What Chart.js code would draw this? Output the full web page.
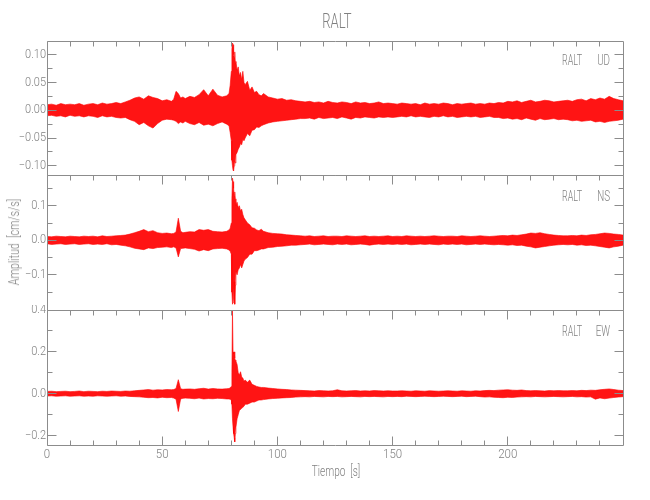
<!DOCTYPE html>
<html>
<head>
<meta charset="utf-8">
<script src="https://cdn.jsdelivr.net/npm/chart.js@4.4.1/dist/chart.umd.min.js"></script>
<style>
    html, body { margin: 0; padding: 0; background: #fff; }
    #wrap { position: relative; width: 650px; height: 500px; overflow: hidden; }
    #wrap canvas { position: absolute; left: 0; }
    .lbl { position: absolute; color: #808080; font-family: Roboto, 'DejaVu Sans', sans-serif; font-weight: 300; white-space: nowrap; line-height: 1; }
    #title { left: 337px; top: 21px; font-size: 21px; transform: translate(-50%, -50%) scaleX(0.62); }
    #xlabel { left: 336px; top: 471px; font-size: 14px; transform: translate(-50%, -50%) scaleX(0.72); }
    #ylabel { left: 14px; top: 242px; font-size: 14px; transform: translate(-50%, -50%) rotate(-90deg) scaleX(0.76); }
</style>
</head>
<body>
<div id="wrap">
    <canvas id="p1" width="650" height="180" style="top:0px"></canvas>
    <canvas id="p2" width="650" height="145" style="top:170px"></canvas>
    <canvas id="p3" width="650" height="195" style="top:305px"></canvas>
    <div class="lbl" id="title">RALT</div>
    <div class="lbl" id="xlabel">Tiempo&nbsp; [s]</div>
    <div class="lbl" id="ylabel">Amplitud&nbsp; [cm/s/s]</div>
</div>
<script>
// --- Data: envelope (upper / lower) of each trace ---
// Time samples in seconds; finer around the main arrival.
const T = [
    0, 2, 4, 6, 8, 10, 12, 14, 16, 18, 20, 22, 24, 26, 28, 30, 32, 34, 36, 38, 40, 42, 44, 46, 48, 50, 52, 54,
    55, 56, 57, 58, 59, 60,
    62, 64, 66, 68, 70, 72, 74, 76, 78,
    79, 79.5, 80, 80.25, 80.5, 80.75, 81, 81.25, 81.5, 81.75, 82,
    82.5, 83, 83.5, 84, 84.5, 85, 85.5, 86,
    87, 88, 89, 90, 91, 92, 93, 94,
    96, 98, 100, 102, 104, 106, 108, 110,
    112, 114, 116, 118, 120, 122, 124, 126, 128, 130, 132, 134, 136, 138, 140, 142, 144, 146, 148, 150,
    152, 154, 156, 158, 160, 162, 164, 166, 168, 170, 172, 174, 176, 178, 180, 182, 184, 186, 188, 190, 192, 194,
    196, 198, 200, 202, 204, 206, 208, 210, 212, 214, 216, 218, 220, 222, 224,
    226, 228, 230, 232, 234, 236, 238, 240, 242, 244, 246, 248, 250,
];

const UD_HI = [
    0.010,0.011,0.009,0.012,0.010,0.011,0.010,0.012,0.009,0.011,0.012,0.010,0.013,0.011,0.012,0.014,0.012,0.015,0.018,0.022,0.024,0.020,0.026,0.023,0.021,0.017,0.019,0.016,
    0.020,0.034,0.030,0.022,0.024,0.021,
    0.025,0.023,0.028,0.037,0.026,0.038,0.027,0.024,0.026,
    0.030,0.045,0.070,0.110,0.121,0.118,0.100,0.095,0.105,0.085,0.088,
    0.072,0.078,0.062,0.068,0.055,0.070,0.050,0.046,
    0.052,0.036,0.042,0.032,0.034,0.028,0.026,0.030,
    0.024,0.022,0.020,0.021,0.018,0.019,0.017,0.016,
    0.015,0.016,0.014,0.015,0.013,0.016,0.014,0.013,0.015,0.014,0.012,0.015,0.013,0.014,0.012,0.013,0.015,0.012,0.013,0.012,
    0.011,0.013,0.012,0.011,0.012,0.010,0.013,0.011,0.012,0.011,0.013,0.012,0.010,0.012,0.011,0.012,0.013,0.011,0.012,0.011,0.013,0.012,
    0.014,0.013,0.016,0.015,0.017,0.014,0.016,0.018,0.015,0.016,0.018,0.017,0.015,0.016,0.017,
    0.018,0.016,0.019,0.020,0.017,0.021,0.019,0.022,0.020,0.025,0.021,0.019,0.017,
];
const UD_LO = [
    -0.010,-0.009,-0.011,-0.010,-0.012,-0.009,-0.011,-0.010,-0.012,-0.010,-0.011,-0.013,-0.010,-0.012,-0.011,-0.013,-0.014,-0.013,-0.017,-0.020,-0.026,-0.022,-0.028,-0.032,-0.024,-0.018,-0.016,-0.017,
    -0.018,-0.020,-0.024,-0.021,-0.023,-0.020,
    -0.024,-0.026,-0.022,-0.027,-0.025,-0.028,-0.024,-0.021,-0.025,
    -0.028,-0.040,-0.055,-0.090,-0.100,-0.108,-0.109,-0.100,-0.092,-0.095,-0.080,
    -0.076,-0.070,-0.066,-0.060,-0.062,-0.052,-0.055,-0.050,
    -0.042,-0.046,-0.036,-0.035,-0.030,-0.031,-0.028,-0.026,
    -0.023,-0.021,-0.020,-0.019,-0.018,-0.017,-0.016,-0.015,
    -0.015,-0.014,-0.016,-0.013,-0.015,-0.014,-0.013,-0.015,-0.012,-0.014,-0.016,-0.013,-0.014,-0.012,-0.013,-0.014,-0.012,-0.013,-0.012,-0.013,
    -0.012,-0.011,-0.012,-0.010,-0.012,-0.011,-0.012,-0.013,-0.011,-0.012,-0.010,-0.012,-0.011,-0.013,-0.012,-0.011,-0.012,-0.011,-0.013,-0.012,-0.011,-0.013,
    -0.013,-0.015,-0.014,-0.016,-0.015,-0.017,-0.014,-0.016,-0.018,-0.015,-0.017,-0.016,-0.015,-0.017,-0.016,
    -0.017,-0.019,-0.018,-0.020,-0.019,-0.018,-0.021,-0.020,-0.022,-0.020,-0.019,-0.018,-0.016,
];

const NS_HI = [
    0.011,0.010,0.012,0.011,0.010,0.012,0.011,0.010,0.012,0.011,0.012,0.010,0.013,0.011,0.012,0.013,0.014,0.015,0.018,0.022,0.026,0.031,0.025,0.028,0.022,0.020,0.021,0.019,
    0.020,0.024,0.064,0.026,0.022,0.023,
    0.025,0.024,0.031,0.029,0.031,0.026,0.025,0.024,0.026,
    0.030,0.035,0.050,0.120,0.180,0.170,0.150,0.130,0.140,0.120,0.100,
    0.110,0.095,0.100,0.085,0.090,0.075,0.065,0.060,
    0.050,0.045,0.036,0.035,0.030,0.028,0.032,0.026,
    0.022,0.020,0.019,0.018,0.016,0.015,0.014,0.013,
    0.012,0.013,0.011,0.012,0.013,0.011,0.012,0.012,0.011,0.013,0.012,0.011,0.012,0.013,0.011,0.012,0.011,0.012,0.013,0.011,
    0.012,0.011,0.013,0.012,0.011,0.012,0.011,0.012,0.013,0.012,0.011,0.012,0.012,0.011,0.013,0.012,0.011,0.012,0.013,0.012,0.011,0.012,
    0.013,0.014,0.013,0.015,0.014,0.016,0.018,0.021,0.020,0.022,0.019,0.017,0.015,0.014,0.013,
    0.013,0.014,0.013,0.015,0.014,0.016,0.017,0.019,0.021,0.020,0.018,0.017,0.015,
];
const NS_LO = [
    -0.010,-0.012,-0.011,-0.010,-0.012,-0.011,-0.010,-0.012,-0.011,-0.010,-0.012,-0.011,-0.012,-0.010,-0.013,-0.012,-0.014,-0.016,-0.019,-0.023,-0.025,-0.027,-0.022,-0.024,-0.021,-0.020,-0.019,-0.021,
    -0.019,-0.022,-0.048,-0.024,-0.023,-0.022,
    -0.024,-0.026,-0.031,-0.027,-0.030,-0.025,-0.024,-0.023,-0.025,
    -0.028,-0.032,-0.040,-0.150,-0.185,-0.180,-0.170,-0.120,-0.185,-0.130,-0.090,
    -0.100,-0.085,-0.080,-0.070,-0.080,-0.070,-0.060,-0.055,
    -0.050,-0.040,-0.040,-0.030,-0.030,-0.028,-0.025,-0.025,
    -0.021,-0.020,-0.018,-0.017,-0.016,-0.014,-0.014,-0.013,
    -0.012,-0.011,-0.013,-0.012,-0.011,-0.012,-0.013,-0.011,-0.012,-0.011,-0.013,-0.012,-0.011,-0.012,-0.014,-0.012,-0.011,-0.012,-0.011,-0.012,
    -0.011,-0.012,-0.011,-0.013,-0.012,-0.011,-0.012,-0.011,-0.012,-0.013,-0.011,-0.012,-0.011,-0.012,-0.011,-0.013,-0.012,-0.011,-0.012,-0.011,-0.012,-0.013,
    -0.012,-0.013,-0.014,-0.013,-0.015,-0.014,-0.017,-0.019,-0.022,-0.020,-0.018,-0.016,-0.014,-0.013,-0.012,
    -0.013,-0.012,-0.014,-0.013,-0.015,-0.014,-0.016,-0.018,-0.020,-0.022,-0.019,-0.017,-0.014,
];

const EW_HI = [
    0.011,0.012,0.010,0.011,0.012,0.010,0.011,0.013,0.010,0.012,0.011,0.010,0.012,0.011,0.013,0.012,0.011,0.013,0.012,0.014,0.016,0.018,0.020,0.017,0.019,0.018,0.020,0.019,
    0.020,0.025,0.067,0.024,0.021,0.022,
    0.023,0.021,0.024,0.026,0.022,0.025,0.023,0.022,0.024,
    0.025,0.028,0.035,0.100,0.395,0.200,0.190,0.200,0.170,0.160,0.155,
    0.140,0.100,0.090,0.105,0.080,0.075,0.060,0.065,
    0.055,0.065,0.045,0.040,0.035,0.032,0.030,0.030,
    0.027,0.025,0.023,0.021,0.020,0.018,0.017,0.016,
    0.015,0.014,0.013,0.015,0.014,0.013,0.014,0.019,0.014,0.013,0.014,0.015,0.013,0.014,0.013,0.015,0.014,0.013,0.014,0.013,
    0.013,0.014,0.013,0.012,0.014,0.013,0.012,0.014,0.013,0.012,0.013,0.014,0.013,0.012,0.014,0.013,0.012,0.014,0.013,0.015,0.016,0.015,
    0.017,0.018,0.019,0.017,0.016,0.018,0.015,0.014,0.015,0.014,0.013,0.015,0.014,0.015,0.014,
    0.014,0.015,0.014,0.016,0.015,0.017,0.016,0.019,0.021,0.023,0.020,0.017,0.015,
];
const EW_LO = [
    -0.011,-0.010,-0.012,-0.011,-0.010,-0.012,-0.011,-0.010,-0.012,-0.011,-0.012,-0.010,-0.011,-0.012,-0.011,-0.010,-0.012,-0.011,-0.013,-0.014,-0.015,-0.017,-0.019,-0.018,-0.020,-0.017,-0.019,-0.018,
    -0.021,-0.026,-0.085,-0.025,-0.022,-0.021,
    -0.022,-0.024,-0.021,-0.025,-0.023,-0.024,-0.022,-0.023,-0.025,
    -0.025,-0.027,-0.030,-0.050,-0.120,-0.160,-0.190,-0.210,-0.230,-0.190,-0.160,
    -0.120,-0.100,-0.080,-0.075,-0.070,-0.065,-0.060,-0.050,
    -0.050,-0.045,-0.040,-0.040,-0.035,-0.030,-0.030,-0.028,
    -0.025,-0.023,-0.022,-0.020,-0.019,-0.018,-0.016,-0.015,
    -0.014,-0.015,-0.013,-0.014,-0.015,-0.013,-0.014,-0.013,-0.015,-0.014,-0.013,-0.014,-0.015,-0.013,-0.014,-0.013,-0.014,-0.015,-0.013,-0.014,
    -0.013,-0.014,-0.012,-0.013,-0.014,-0.013,-0.012,-0.013,-0.014,-0.013,-0.012,-0.013,-0.014,-0.013,-0.012,-0.014,-0.013,-0.012,-0.014,-0.016,-0.015,-0.017,
    -0.018,-0.019,-0.017,-0.018,-0.016,-0.015,-0.014,-0.015,-0.013,-0.014,-0.015,-0.014,-0.013,-0.014,-0.015,
    -0.014,-0.013,-0.015,-0.014,-0.016,-0.015,-0.026,-0.020,-0.024,-0.021,-0.018,-0.016,-0.014,
];

// --- Axes ---
const X_MAJOR = [0, 50, 100, 150, 200];
const X_LABELS = ['0', '50', '100', '150', '200'];
const X_MINOR = [10, 20, 30, 40, 60, 70, 80, 90, 110, 120, 130, 140, 160, 170, 180, 190, 210, 220, 230, 240];

const UD_TICKS = [-0.10, -0.05, 0, 0.05, 0.10];
const UD_TICK_LABELS = ['\u22120.10', '\u22120.05', '0.00', '0.05', '0.10'];
const UD_MINOR = [-0.075, -0.025, 0.025, 0.075];

const NS_TICKS = [-0.1, 0, 0.1];
const NS_TICK_LABELS = ['\u22120.1', '0.0', '0.1'];
const NS_MINOR = [-0.15, -0.05, 0.05, 0.15];

const EW_TICKS = [-0.2, 0, 0.2, 0.4];
const EW_TICK_LABELS = ['\u22120.2', '0.0', '0.2', '0.4'];
const EW_MINOR = [-0.1, 0.1, 0.3];

// --- Style ---
const AXIS = '#8c8c8c';
const TEXT = '#808080';
const EDGE = 'rgba(255,0,0,0.6)';
const BAND = 'rgba(255,0,0,0.92)';
const FONT = "Roboto, 'DejaVu Sans', sans-serif";

for (const a of [UD_HI, UD_LO, NS_HI, NS_LO, EW_HI, EW_LO]) {
    if (a.length !== T.length) throw new Error('length mismatch ' + a.length + ' vs ' + T.length);
}

function pts(vals) { return T.map((t, i) => ({ x: t, y: vals[i] })); }

const crisp = (v) => Math.floor(v) + 0.5;

// squeezed draws text narrowed horizontally, like the plotting program's thin stroke font.
function squeezed(ctx, str, x, y, sx) {
    ctx.save();
    ctx.translate(x, y);
    ctx.scale(sx, 1);
    ctx.fillText(str, 0, 0);
    ctx.restore();
}

// framePlugin draws the box, inward ticks, tick labels and the trace name.
const framePlugin = {
    id: 'frame',
    afterDraw(chart, args, o) {
        const { ctx, chartArea: a } = chart;
        const xs = chart.scales.x, ys = chart.scales.y;
        const L = crisp(a.left), R = crisp(a.right), TOP = crisp(a.top), B = crisp(a.bottom);
        ctx.save();
        ctx.strokeStyle = AXIS;
        ctx.lineWidth = 1;
        ctx.beginPath();
        ctx.rect(L, TOP, R - L, B - TOP);
        const tick = (x1, y1, x2, y2) => { ctx.moveTo(x1, y1); ctx.lineTo(x2, y2); };
        for (const v of X_MAJOR) {
            const x = crisp(xs.getPixelForValue(v));
            tick(x, TOP, x, TOP + 9);
            if (o.bottomTicks) tick(x, B, x, B - 9);
        }
        for (const v of X_MINOR) {
            const x = crisp(xs.getPixelForValue(v));
            tick(x, TOP, x, TOP + 5);
            if (o.bottomTicks) tick(x, B, x, B - 5);
        }
        for (const v of o.yTicks) {
            const y = crisp(ys.getPixelForValue(v));
            tick(L, y, L + 9, y);
            tick(R, y, R - 9, y);
        }
        for (const v of o.yMinor) {
            const y = crisp(ys.getPixelForValue(v));
            tick(L, y, L + 5, y);
            tick(R, y, R - 5, y);
        }
        ctx.stroke();

        ctx.fillStyle = TEXT;
        ctx.font = '300 12.5px ' + FONT;
        ctx.textAlign = 'right';
        ctx.textBaseline = 'middle';
        o.yTicks.forEach((v, i) => squeezed(ctx, o.yLabels[i], a.left - 1, ys.getPixelForValue(v), 0.88));
        if (o.xLabels) {
            ctx.textAlign = 'center';
            ctx.textBaseline = 'top';
            ctx.font = '300 13.5px ' + FONT;
            X_MAJOR.forEach((v, i) => squeezed(ctx, X_LABELS[i], xs.getPixelForValue(v), a.bottom + 3, 0.85));
        }
        ctx.font = '300 14px ' + FONT;
        ctx.textBaseline = 'middle';
        ctx.textAlign = 'left';
        squeezed(ctx, 'RALT', 562, a.top + o.nameY, 0.64);
        ctx.textAlign = 'right';
        squeezed(ctx, o.comp, 610, a.top + o.nameY, 0.7);
        ctx.restore();
    },
};

function makePanel(id, hi, lo, yMin, yMax, frame, padding) {
    return new Chart(document.getElementById(id), {
        type: 'line',
        data: {
            datasets: [
                { data: pts(hi), borderColor: EDGE, borderWidth: 1, pointRadius: 0, fill: '+1', backgroundColor: BAND },
                { data: pts(lo), borderColor: EDGE, borderWidth: 1, pointRadius: 0, fill: false },
            ],
        },
        options: {
            responsive: false,
            animation: false,
            devicePixelRatio: 1,
            layout: { padding },
            elements: { line: { tension: 0 } },
            plugins: { legend: { display: false }, tooltip: { enabled: false }, frame },
            scales: {
                x: { type: 'linear', min: 0, max: 250, display: false },
                y: { type: 'linear', min: yMin, max: yMax, display: false },
            },
        },
        plugins: [framePlugin],
    });
}

makePanel('p1', UD_HI, UD_LO, -0.1165, 0.1246,
    { yTicks: UD_TICKS, yLabels: UD_TICK_LABELS, yMinor: UD_MINOR, comp: 'UD', nameY: 20 },
    { left: 47, right: 27, top: 41, bottom: 5 });
makePanel('p2', NS_HI, NS_LO, -0.2017, 0.189,
    { yTicks: NS_TICKS, yLabels: NS_TICK_LABELS, yMinor: NS_MINOR, comp: 'NS', nameY: 22 },
    { left: 47, right: 27, top: 5, bottom: 5 });
makePanel('p3', EW_HI, EW_LO, -0.245, 0.40,
    { yTicks: EW_TICKS, yLabels: EW_TICK_LABELS, yMinor: EW_MINOR, comp: 'EW', nameY: 22, bottomTicks: true, xLabels: true },
    { left: 47, right: 27, top: 5, bottom: 55 });
</script>
</body>
</html>
